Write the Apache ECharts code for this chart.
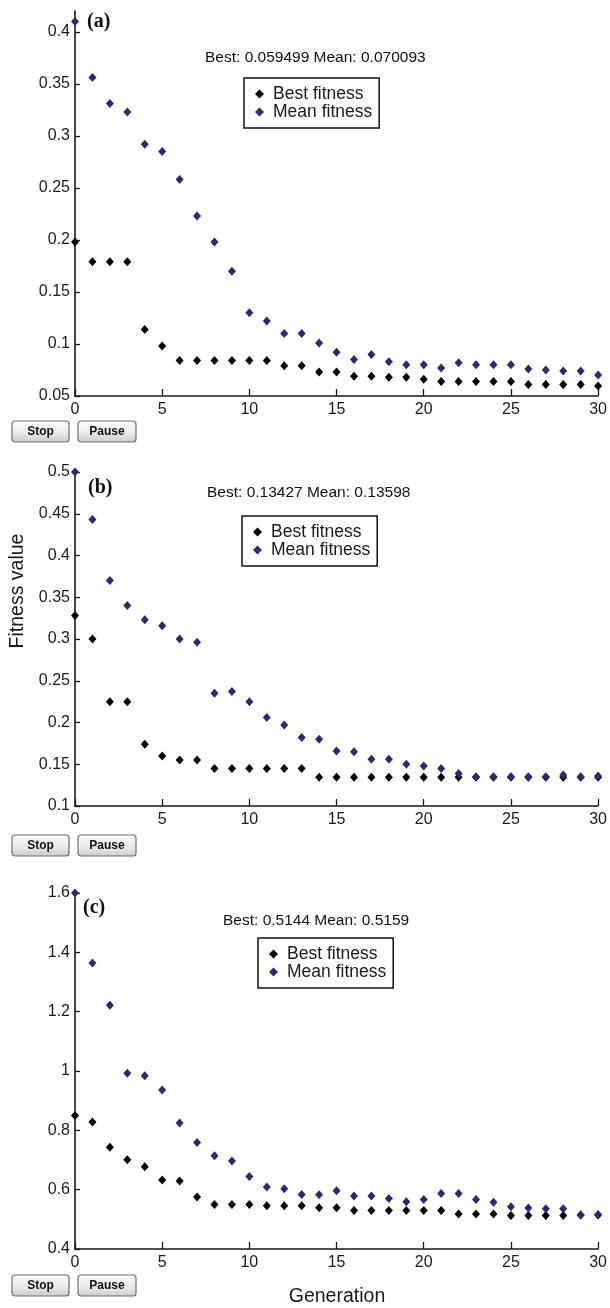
<!DOCTYPE html>
<html><head><meta charset="utf-8">
<script src="https://cdn.jsdelivr.net/npm/echarts@6/dist/echarts.min.js"></script>
<style>html,body{margin:0;padding:0;background:#fff}#c{width:610px;height:1308px}</style>
</head><body><div id="c"></div>
<script>
// ---------- data ----------
const generations = [0,1,2,3,4,5,6,7,8,9,10,11,12,13,14,15,16,17,18,19,20,21,22,23,24,25,26,27,28,29,30];

const bestA = [0.198,0.179,0.179,0.179,0.114,0.098,0.084,0.084,0.084,0.084,0.084,0.084,0.079,0.079,0.073,0.073,0.069,0.069,0.068,0.068,0.066,0.064,0.064,0.064,0.064,0.064,0.061,0.061,0.061,0.061,0.0595];
const meanA = [0.410,0.356,0.331,0.323,0.292,0.285,0.258,0.223,0.198,0.170,0.130,0.122,0.110,0.110,0.101,0.092,0.085,0.090,0.083,0.080,0.080,0.077,0.082,0.080,0.080,0.080,0.076,0.075,0.074,0.074,0.0701];

const bestB = [0.328,0.300,0.225,0.225,0.174,0.160,0.155,0.155,0.145,0.145,0.145,0.145,0.145,0.145,0.1343,0.1343,0.1343,0.1343,0.1343,0.1343,0.1343,0.1343,0.1343,0.1343,0.1343,0.1343,0.1343,0.1343,0.1343,0.1343,0.1343];
const meanB = [0.500,0.443,0.370,0.340,0.323,0.316,0.300,0.296,0.235,0.237,0.225,0.206,0.197,0.182,0.180,0.166,0.165,0.156,0.156,0.150,0.148,0.145,0.139,0.135,0.135,0.135,0.135,0.135,0.137,0.135,0.136];

const bestC = [0.850,0.828,0.743,0.701,0.677,0.633,0.629,0.575,0.550,0.550,0.550,0.546,0.546,0.546,0.539,0.539,0.530,0.530,0.530,0.530,0.530,0.530,0.518,0.518,0.518,0.513,0.513,0.513,0.513,0.5144,0.5144];
const meanC = [1.600,1.364,1.222,0.992,0.984,0.936,0.825,0.759,0.714,0.697,0.644,0.609,0.603,0.584,0.583,0.596,0.579,0.579,0.570,0.559,0.567,0.587,0.587,0.567,0.558,0.542,0.538,0.536,0.536,0.515,0.5159];

const xTicks = [0,5,10,15,20,25,30];
const yTicksA = [0.05,0.1,0.15,0.2,0.25,0.3,0.35,0.4];
const yTicksB = [0.1,0.15,0.2,0.25,0.3,0.35,0.4,0.45,0.5];
const yTicksC = [0.4,0.6,0.8,1,1.2,1.4,1.6];

const panelLabels = ['(a)','(b)','(c)'];
const statTexts = ['Best: 0.059499 Mean: 0.070093','Best: 0.13427 Mean: 0.13598','Best: 0.5144 Mean: 0.5159'];
const legendNames = ['Best fitness','Mean fitness'];
const yName = 'Fitness value';
const xName = 'Generation';
const buttonLabels = ['Stop','Pause'];

// ---------- layout / style ----------
const SANS = '"Liberation Sans", Arial, sans-serif';
const SERIF = '"Liberation Serif", "Times New Roman", serif';
const INK = '#1a1a1a';
const PURPLE = '#35237a';

const panels = [
  {top: 11,  height: 385, min: 0.05, max: 0.42, interval: 0.05, ticks: yTicksA, best: bestA, mean: meanA,
   lab: [87, 22], stat: [205, 58], leg: [244, 78], btnY: 421},
  {top: 472, height: 334, min: 0.1,  max: 0.5,  interval: 0.05, ticks: yTicksB, best: bestB, mean: meanB,
   lab: [88, 488], stat: [207, 493], leg: [242, 516], btnY: 835},
  {top: 893, height: 356, min: 0.4,  max: 1.6,  interval: 0.2,  ticks: yTicksC, best: bestC, mean: meanC,
   lab: [83, 908], stat: [223, 921], leg: [258, 938], btnY: 1275}
];

const grid = [], xAxis = [], yAxis = [], series = [], legend = [], graphic = [];

function pairs(vals){ return generations.map((g,i)=>[g, vals[i]]); }

function onTick(v, ticks){ return ticks.some(t => Math.abs(t - v) < 1e-9); }

panels.forEach((p, i) => {
  grid.push({left: 75, width: 527, top: p.top, height: p.height});
  xAxis.push({
    gridIndex: i, type: 'value', min: 0, max: 30, interval: 5,
    axisLine: {show: true, onZero: false, lineStyle: {color: INK, width: 1.6}},
    axisTick: {show: true, inside: true, length: 7, customValues: xTicks, lineStyle: {color: INK, width: 1.3}},
    axisLabel: {fontSize: 16, color: INK, fontFamily: SANS, margin: 6, customValues: xTicks},
    splitLine: {show: false}
  });
  yAxis.push({
    gridIndex: i, type: 'value', min: p.min, max: p.max, interval: p.interval,
    axisLine: {show: true, onZero: false, lineStyle: {color: INK, width: 1.6}},
    axisTick: {show: true, inside: true, length: 5, customValues: p.ticks, lineStyle: {color: INK, width: 1.3}},
    axisLabel: {fontSize: 16, color: INK, fontFamily: SANS, margin: 5, customValues: p.ticks,
      formatter: v => onTick(v, p.ticks) ? String(+v.toFixed(4)) : ''},
    splitLine: {show: false}
  });
  series.push({
    name: legendNames[0], type: 'scatter', xAxisIndex: i, yAxisIndex: i,
    symbol: 'diamond', symbolSize: [8, 9], itemStyle: {color: '#000', opacity: 1},
    data: pairs(p.best), z: 3
  });
  series.push({
    name: legendNames[1], type: 'scatter', xAxisIndex: i, yAxisIndex: i,
    symbol: 'diamond', symbolSize: [8, 9], itemStyle: {color: PURPLE, opacity: 1},
    data: pairs(p.mean), z: 4
  });
  legend.push({
    left: p.leg[0], top: p.leg[1], orient: 'vertical',
    data: [{name: legendNames[0], icon: 'diamond'}, {name: legendNames[1], icon: 'diamond'}],
    selectedMode: false,
    itemWidth: 9, itemHeight: 9, itemGap: 0,
    padding: [7, 7, 7, 11],
    itemStyle: {opacity: 1},
    borderColor: '#111', borderWidth: 1.5, borderRadius: 0, backgroundColor: '#fff',
    textStyle: {fontSize: 17.5, fontFamily: SANS, color: INK, lineHeight: 16, padding: [0, 0, 0, 4]}
  });
  graphic.push({type: 'text', x: p.lab[0], y: p.lab[1], z: 10,
    style: {text: panelLabels[i], font: 'bold 20px ' + SERIF, fill: '#111', align: 'left', verticalAlign: 'middle'}});
  graphic.push({type: 'text', x: p.stat[0], y: p.stat[1], z: 10,
    style: {text: statTexts[i], font: '15.5px ' + SANS, fill: '#111', align: 'left', verticalAlign: 'middle'}});
  // buttons
  [[12, 57], [78, 58]].forEach((b, k) => {
    graphic.push({type: 'group', x: b[0], y: p.btnY, z: 10, children: [
      {type: 'rect', shape: {x: 0, y: 0, width: b[1], height: 21, r: 3},
       style: {fill: new echarts.graphic.LinearGradient(0, 0, 0, 1, [
         {offset: 0, color: '#fbfbfb'}, {offset: 0.55, color: '#ececec'}, {offset: 1, color: '#c9c9c9'}]),
         stroke: '#6e6e6e', lineWidth: 1.2}},
      {type: 'text', x: b[1] / 2, y: 11,
       style: {text: buttonLabels[k], font: 'bold 12px ' + SANS, fill: '#111', align: 'center', verticalAlign: 'middle'}}
    ]});
  });
});

graphic.push({type: 'text', x: 18, y: 591, rotation: Math.PI / 2, z: 10,
  style: {text: yName, font: '19.5px ' + SANS, fill: INK, align: 'center', verticalAlign: 'middle'}});
graphic.push({type: 'text', x: 337, y: 1297, z: 10,
  style: {text: xName, font: '19.5px ' + SANS, fill: INK, align: 'center', verticalAlign: 'middle'}});

const chart = echarts.init(document.getElementById('c'), null, {renderer: 'canvas'});
chart.setOption({
  backgroundColor: '#fff',
  animation: false,
  grid, xAxis, yAxis, series, legend, graphic
});
</script>
</body></html>
